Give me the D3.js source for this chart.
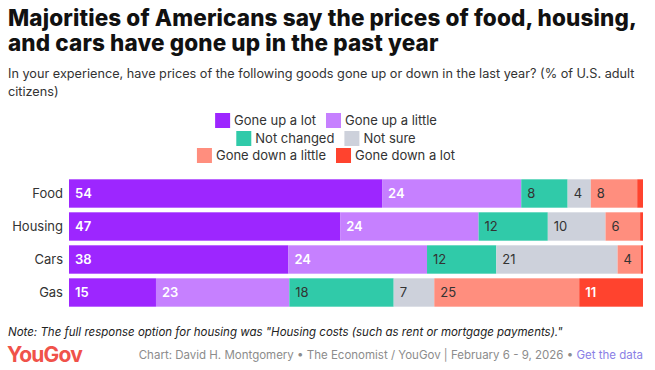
<!DOCTYPE html>
<html><head><meta charset="utf-8">
<script src="https://cdn.jsdelivr.net/npm/d3@7"></script>
<style>
body{margin:0;background:#fff;}
svg{display:block;font-family:Inter,"Noto Sans",sans-serif;}
</style></head>
<body><svg id="c" width="655" height="370"></svg>
<script>
const categories = ["Food","Housing","Cars","Gas"];
const seriesNames = ["Gone up a lot","Gone up a little","Not changed","Not sure","Gone down a little","Gone down a lot"];
const upALot     = [54,47,38,15];
const upALittle  = [24,24,24,23];
const notChanged = [8,12,12,18];
const notSure    = [4,10,21,7];
const downALittle= [8,6,4,25];
const downALot   = [1,0.5,0.4,11];
const colors = ["#9d26ff","#c680ff","#30caa9","#cdd1db","#ff8e7e","#ff432e"];
const textColors = ["#fff","#fff","#333","#333","#333","#fff"];

const svg = d3.select("#c");
const allSeries = [upALot,upALittle,notChanged,notSure,downALittle,downALot];
const rows = categories.map((c,i)=>{
  const o={cat:c};
  seriesNames.forEach((s,j)=>o[s]=allSeries[j][i]);
  return o;
});
const rowsN = rows.map(r=>{
  const tot = d3.sum(seriesNames,s=>r[s]);
  const o={cat:r.cat};
  seriesNames.forEach(s=>o[s]=r[s]/tot*100);
  return o;
});
const stack = d3.stack().keys(seriesNames)(rowsN);

const x = d3.scaleLinear().domain([0,100]).range([69,643]);
const y = d3.scaleBand().domain(categories).range([177,309]).paddingInner(0.14).paddingOuter(0.07);

// Title
const t1 = svg.append("text").attr("x",8).attr("y",26).attr("font-size",22.5).attr("font-weight",800).attr("fill","#111")
  .text("Majorities of Americans say the prices of food, housing,");
const w1 = t1.node().getComputedTextLength();
const n1 = t1.text().length;
const ls = (629 - w1)/n1;
t1.attr("letter-spacing",ls);
svg.append("text").attr("x",8).attr("y",51).attr("font-size",22.5).attr("font-weight",800).attr("fill","#111")
  .attr("letter-spacing",ls).text("and cars have gone up in the past year");
svg.append("text").attr("x",8).attr("y",78).attr("font-size",12.7).attr("fill","#333")
  .text("In your experience, have prices of the following goods gone up or down in the last year? (% of U.S. adult");
svg.append("text").attr("x",8).attr("y",96).attr("font-size",12.7).attr("fill","#333").text("citizens)");

// Legend
const legendRows = [[0,1],[2,3],[4,5]];
const legendY = [113,131,148];
legendRows.forEach((items,ri)=>{
  const g = svg.append("g");
  let cx = 0;
  items.forEach((k,ii)=>{
    g.append("rect").attr("x",cx).attr("y",0).attr("width",15).attr("height",15).attr("fill",colors[k]);
    const t = g.append("text").attr("x",cx+19).attr("y",12).attr("font-size",13).attr("fill","#333").text(seriesNames[k]);
    cx += 19 + t.node().getComputedTextLength() + 10;
  });
  const w = cx - 10;
  g.attr("transform",`translate(${326 - w/2},${legendY[ri]})`);
});

// Category labels
svg.append("g").selectAll("text").data(categories).join("text")
  .attr("x",63).attr("y",d=>y(d)+y.bandwidth()/2+4.5).attr("text-anchor","end")
  .attr("font-size",13).attr("fill","#333").text(d=>d);

// Bars
stack.forEach((layer,j)=>{
  const g = svg.append("g");
  g.selectAll("rect").data(layer).join("rect")
    .attr("x",d=>x(d[0])).attr("y",d=>y(d.data.cat))
    .attr("width",d=>x(d[1])-x(d[0])).attr("height",y.bandwidth()).attr("fill",colors[j]);
  g.selectAll("text").data(layer.filter((d,i)=>allSeries[j][i]>=2)).join("text")
    .attr("x",d=>x(d[0])+6).attr("y",d=>y(d.data.cat)+y.bandwidth()/2+4.5)
    .attr("font-size",13).attr("font-weight",j===0||j===1||j===5?600:400).attr("fill",textColors[j])
    .text(d=>{const i=categories.indexOf(d.data.cat);return allSeries[j][i];});
});

// Footer
svg.append("text").attr("x",8).attr("y",336).attr("font-size",11.5).attr("font-style","italic").attr("fill","#222")
  .text("Note: The full response option for housing was \"Housing costs (such as rent or mortgage payments).\"");
svg.append("text").attr("x",7).attr("y",362).attr("font-size",21).attr("font-weight",700).attr("fill","#f0524a").attr("letter-spacing",-0.8)
  .text("YouGov");
const cr = svg.append("text").attr("x",643).attr("y",359).attr("font-size",11.5).attr("text-anchor","end").attr("fill","#8c8c8c");
cr.append("tspan").text("Chart: David H. Montgomery • The Economist / YouGov | February 6 - 9, 2026 • ");
cr.append("tspan").attr("fill","#8a80e6").text("Get the data");
</script></body></html>
